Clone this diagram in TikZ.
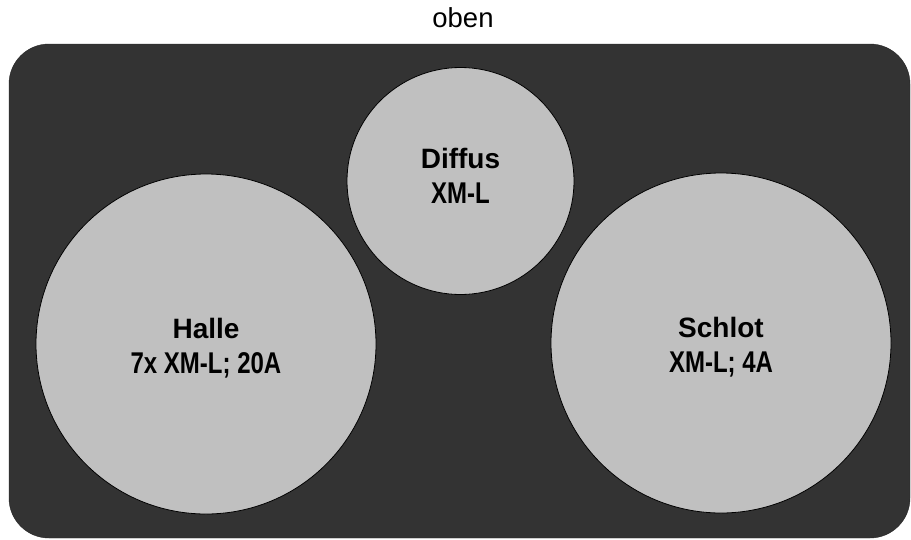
\documentclass[tikz,border=0pt]{standalone}
\usepackage{fontspec}
\setmainfont{Liberation Sans}
\newfontfamily\narrowbold[FakeStretch=0.8]{Liberation Sans Bold}
\usetikzlibrary{positioning}

\definecolor{panelgrey}{HTML}{333333}
\definecolor{lampgrey}{HTML}{C0C0C0}

% two lines: name of the lamp, then what sits in it
\newcommand{\lampinfo}[2]{%
  {\bfseries\fontsize{28}{35}\selectfont #1\vphantom{Hl;}}\\%
  {\narrowbold\fontsize{30}{35}\selectfont #2\vphantom{Hl;}}}

\begin{document}
\begin{tikzpicture}[
        x=1pt, y=-1pt,
        every node/.style={align=center, inner sep=0pt},
        panel/.style={draw=black!85, fill=panelgrey, rounded corners=40pt},
        lamp/.style={circle, draw=black, line width=0.8pt, fill=lampgrey},
        lamptext/.style={font=\fontsize{28}{35}\selectfont},
        side/.style={font=\fontsize{27.5}{32}\selectfont}
        ]

        \useasboundingbox (0,0) rectangle (911,539);

        % Board
        \node[panel, minimum width=901pt, minimum height=494pt] (board) at (459.5,291) {};
        \node[side] (oben) [above=16pt of board, xshift=3.5pt] {oben};

        % Lamps
        \node[lamp, minimum size=227pt,
              label={[lamptext, yshift=3pt]center:\lampinfo{Diffus}{XM-L}}] (diffus) at (460.5,181) {};
        \node[lamp, minimum size=340pt,
              label={[lamptext, yshift=-4pt]center:\lampinfo{Halle}{7x XM-L; 20A}}] (halle) at (206,344) {};
        \node[lamp, minimum size=340pt,
              label={[lamptext, yshift=-4pt]center:\lampinfo{Schlot}{XM-L; 4A}}] (schlot) at (721,343) {};

    \end{tikzpicture}
\end{document}
